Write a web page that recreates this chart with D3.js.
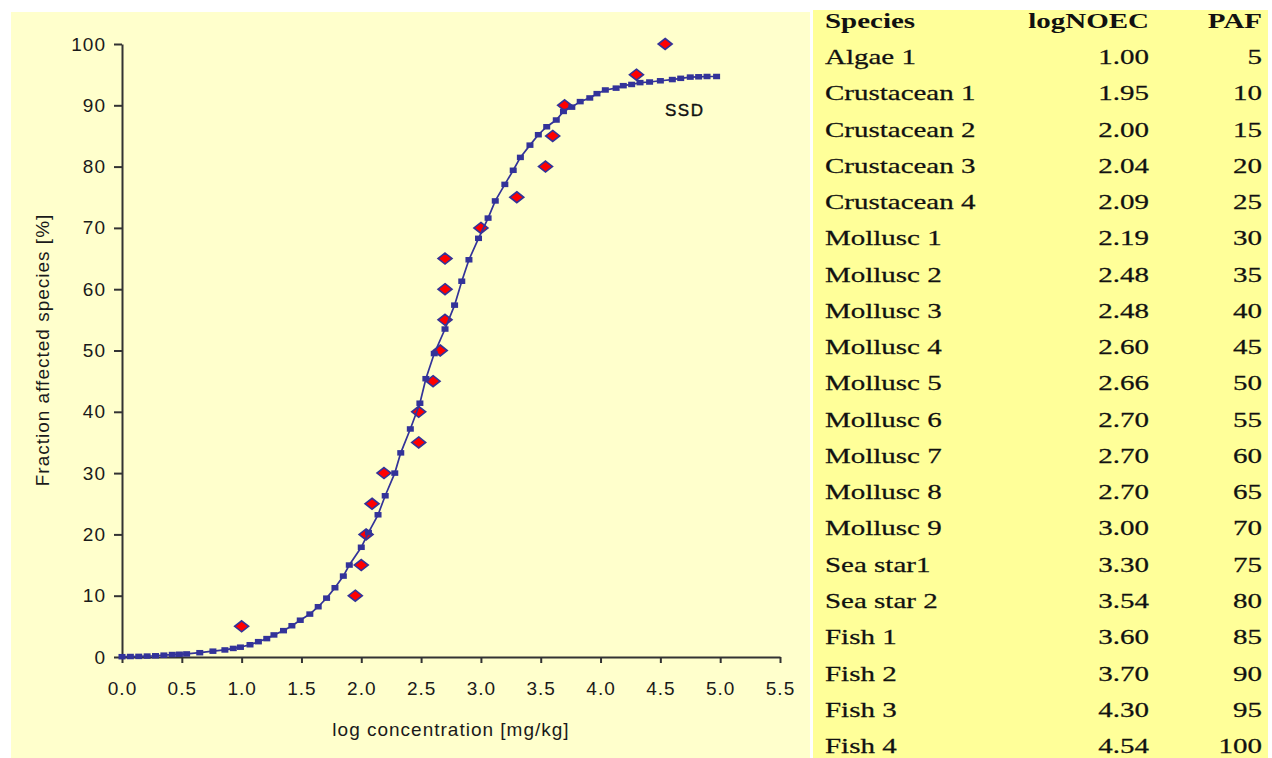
<!DOCTYPE html>
<html>
<head>
<meta charset="utf-8">
<script src="https://cdn.jsdelivr.net/npm/d3@7"></script>
<style>
body { margin: 0; background: #fff; }
</style>
</head>
<body>
<div id="chart-area"></div>
<script>

// DATA ------------------------------------------------------------
var species = ["Algae 1", "Crustacean 1", "Crustacean 2", "Crustacean 3", "Crustacean 4",
    "Mollusc 1", "Mollusc 2", "Mollusc 3", "Mollusc 4", "Mollusc 5", "Mollusc 6",
    "Mollusc 7", "Mollusc 8", "Mollusc 9", "Sea star1", "Sea star 2",
    "Fish 1", "Fish 2", "Fish 3", "Fish 4"];
var logNOEC = [1.00, 1.95, 2.00, 2.04, 2.09, 2.19, 2.48, 2.48, 2.60, 2.66,
    2.70, 2.70, 2.70, 3.00, 3.30, 3.54, 3.60, 3.70, 4.30, 4.54];
var paf = [5, 10, 15, 20, 25, 30, 35, 40, 45, 50, 55, 60, 65, 70, 75, 80, 85, 90, 95, 100];

// fitted SSD curve
var ssdX = [0.00, 0.07, 0.14, 0.21, 0.28, 0.35, 0.42, 0.48, 0.54, 0.65,
    0.76, 0.86, 0.93, 0.99, 1.07, 1.14, 1.21, 1.27, 1.35, 1.42,
    1.49, 1.57, 1.64, 1.71, 1.78, 1.85, 1.90, 2.00, 2.06, 2.14,
    2.20, 2.28, 2.33, 2.41, 2.49, 2.54, 2.61, 2.70, 2.78, 2.84,
    2.90, 2.98, 3.06, 3.12, 3.20, 3.27, 3.33, 3.41, 3.48, 3.55,
    3.63, 3.69, 3.76, 3.83, 3.91, 3.97, 4.04, 4.13, 4.19, 4.26,
    4.33, 4.41, 4.50, 4.60, 4.67, 4.75, 4.82, 4.89, 4.97];
var ssdY = [0.05, 0.08, 0.1, 0.15, 0.2, 0.3, 0.4, 0.45, 0.5, 0.7,
    0.95, 1.15, 1.4, 1.6, 2.0, 2.5, 3.0, 3.6, 4.3, 5.1,
    6.0, 7.0, 8.2, 9.6, 11.3, 13.2, 15.0, 17.9, 20.3, 23.2,
    26.3, 30.0, 33.3, 37.2, 41.4, 45.4, 49.5, 53.5, 57.4, 61.3,
    64.8, 68.3, 71.6, 74.4, 77.1, 79.4, 81.5, 83.5, 85.2, 86.5,
    87.6, 89.0, 89.7, 90.6, 91.2, 91.9, 92.5, 92.8, 93.2, 93.4,
    93.7, 93.8, 94.0, 94.2, 94.4, 94.6, 94.65, 94.7, 94.7];

var xTicks = [0, 0.5, 1, 1.5, 2, 2.5, 3, 3.5, 4, 4.5, 5, 5.5];
var yTicks = [0, 10, 20, 30, 40, 50, 60, 70, 80, 90, 100];

var margin = { left: 122, top: 44 };
var width = 658;
var height = 613;
var sansFont = "'Liberation Sans', Arial, sans-serif";
var serifFont = "'Liberation Serif', 'Times New Roman', serif";
var blue = "#333399";


// SVG + BACKGROUNDS ------------------------------------------------
var svg = d3.select("#chart-area").append("svg")
    .attr("width", 1272)
    .attr("height", 758);

svg.append("rect")
    .attr("x", 11).attr("y", 12)
    .attr("width", 799).attr("height", 746)
    .attr("fill", "#ffffcc");
svg.append("rect")
    .attr("x", 813).attr("y", 10)
    .attr("width", 455).attr("height", 748)
    .attr("fill", "#ffff99");

var mainGroup = svg.append("g")
    .attr("transform", "translate(" + margin.left + ", " + margin.top + ")");


// SCALES -----------------------------------------------------------
var x = d3.scaleLinear().domain([0, 5.5]).range([0, width]);
var y = d3.scaleLinear().domain([0, 100]).range([height, 0]);


// AXES -------------------------------------------------------------
var xAxisGroup = mainGroup.append("g")
    .attr("transform", "translate(0, " + height + ")")
    .call(d3.axisBottom(x)
        .tickValues(xTicks)
        .tickFormat(d3.format(".1f"))
        .tickSize(6)
        .tickSizeOuter(0));
var yAxisGroup = mainGroup.append("g")
    .call(d3.axisLeft(y)
        .tickValues(yTicks)
        .tickSize(8)
        .tickSizeOuter(0));

[xAxisGroup, yAxisGroup].forEach(g => {
    g.select(".domain").attr("stroke", "#333").attr("stroke-width", 2);
    g.selectAll(".tick line").attr("stroke", "#333").attr("stroke-width", 2);
    g.selectAll(".tick text")
        .attr("fill", "#1a1a1a")
        .style("font-family", sansFont)
        .style("font-size", "19px")
        .style("letter-spacing", "1px");
});
xAxisGroup.selectAll(".tick text").attr("y", 38).attr("dy", 0);
yAxisGroup.selectAll(".tick text").attr("x", -16);

// axis titles
mainGroup.append("text")
    .attr("x", 329)
    .attr("y", 692)
    .attr("text-anchor", "middle")
    .attr("fill", "#1a1a1a")
    .style("font-family", sansFont)
    .style("font-size", "19px")
    .style("letter-spacing", "1px")
    .text("log concentration [mg/kg]");
mainGroup.append("text")
    .attr("transform", "translate(-73, 306) rotate(-90)")
    .attr("text-anchor", "middle")
    .attr("fill", "#1a1a1a")
    .style("font-family", sansFont)
    .style("font-size", "19px")
    .style("letter-spacing", "1px")
    .text("Fraction affected species [%]");


// SPECIES POINTS (diamonds) ---------------------------------------
var points = logNOEC.map((d, i) => ({ x: d, y: paf[i] }));
mainGroup.selectAll("path.diamond")
    .data(points)
    .enter().append("path")
    .attr("class", "diamond")
    .attr("d", d => {
        var cx = x(d.x), cy = y(d.y);
        return "M" + cx + "," + (cy - 5.5) + "L" + (cx + 7) + "," + cy +
            "L" + cx + "," + (cy + 5.5) + "L" + (cx - 7) + "," + cy + "Z";
    })
    .attr("fill", "#ff0000")
    .attr("stroke", blue)
    .attr("stroke-width", 1.6);


// SSD CURVE --------------------------------------------------------
var curve = ssdX.map((d, i) => ({ x: d, y: ssdY[i] }));
mainGroup.append("path")
    .datum(curve)
    .attr("fill", "none")
    .attr("stroke", blue)
    .attr("stroke-width", 1.7)
    .attr("d", d3.line().x(d => x(d.x)).y(d => y(d.y)));
mainGroup.selectAll("rect.marker")
    .data(curve)
    .enter().append("rect")
    .attr("class", "marker")
    .attr("x", d => x(d.x) - 3.5)
    .attr("y", d => y(d.y) - 2.75)
    .attr("width", 7)
    .attr("height", 5.5)
    .attr("fill", blue);

svg.append("text")
    .attr("x", 665)
    .attr("y", 116)
    .attr("fill", "#111")
    .attr("stroke", "#111")
    .attr("stroke-width", 0.4)
    .style("font-family", sansFont)
    .style("font-size", "17px")
    .style("letter-spacing", "1.5px")
    .text("SSD");


// TABLE ------------------------------------------------------------
var tableGroup = svg.append("g");
var rowTop = 27.7, rowStep = 36.27, stretch = 1.38;

function cell(text, xPos, row, anchor, bold) {
    tableGroup.append("text")
        .attr("transform", "translate(" + xPos + "," + (rowTop + row * rowStep) + ") scale(" + stretch + ",1)")
        .attr("text-anchor", anchor)
        .attr("fill", "#111")
        .attr("stroke", "#111")
        .attr("stroke-width", bold ? 0 : 0.25)
        .style("font-family", serifFont)
        .style("font-size", "21px")
        .style("font-weight", bold ? "bold" : "normal")
        .text(text);
}

cell("Species", 825, 0, "start", true);
cell("logNOEC", 1149, 0, "end", true);
cell("PAF", 1262, 0, "end", true);
species.forEach((s, i) => {
    cell(s, 825, i + 1, "start", false);
    cell(d3.format(".2f")(logNOEC[i]), 1149, i + 1, "end", false);
    cell(paf[i], 1262, i + 1, "end", false);
});

</script>
</body>
</html>
